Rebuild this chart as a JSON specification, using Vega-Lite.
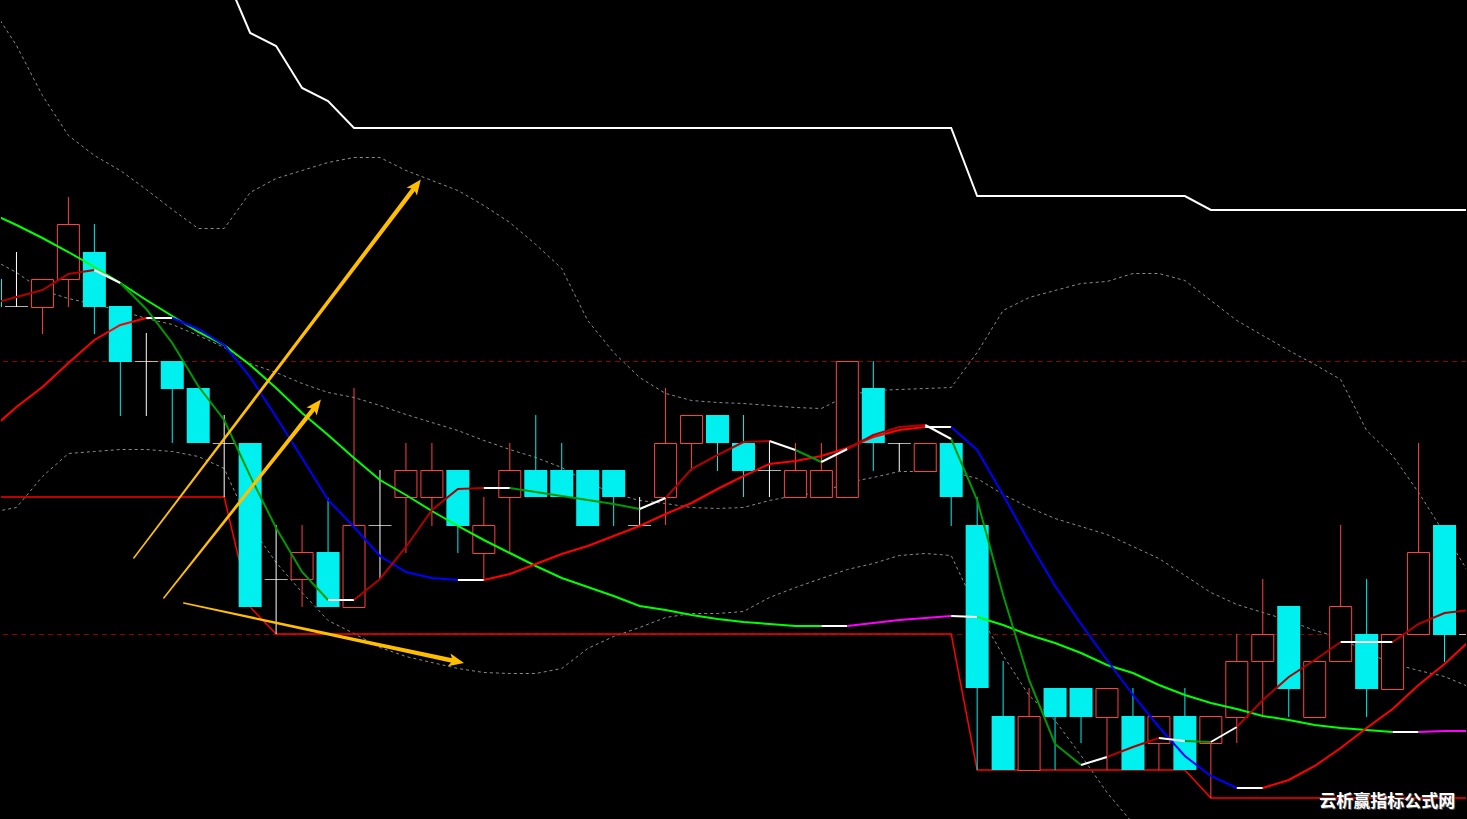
{
"$schema":"https://vega.github.io/schema/vega-lite/v6.json",
"width":1467,"height":819,"padding":0,
"autosize":{"type":"fit","contains":"padding"},
"background":"#000000",
"config":{"view":{"stroke":null},"scale":{"continuousPadding":0}},
"resolve":{"scale":{"color":"independent","size":"independent","y":"independent"}},
"datasets":{
"levels":[{"v":361},{"v":634}],
"candles":[
{"i":-1,"t":"bear","o":279,"c":307,"h":279,"l":307},
{"i":0,"t":"doji","o":306,"c":306,"h":252,"l":307},
{"i":1,"t":"bull","o":307,"c":279,"h":279,"l":334},
{"i":2,"t":"bull","o":279,"c":224,"h":197,"l":307},
{"i":3,"t":"bear","o":252,"c":307,"h":224,"l":334},
{"i":4,"t":"bear","o":306,"c":362,"h":306,"l":416},
{"i":5,"t":"doji","o":361,"c":361,"h":333,"l":416},
{"i":6,"t":"bear","o":361,"c":389,"h":361,"l":443},
{"i":7,"t":"bear","o":388,"c":443,"h":388,"l":443},
{"i":8,"t":"doji","o":443,"c":443,"h":415,"l":497},
{"i":9,"t":"bear","o":443,"c":607,"h":443,"l":607},
{"i":10,"t":"doji","o":579,"c":579,"h":525,"l":634},
{"i":11,"t":"bull","o":579,"c":552,"h":525,"l":607},
{"i":12,"t":"bear","o":552,"c":607,"h":498,"l":607},
{"i":13,"t":"bull","o":607,"c":525,"h":388,"l":607},
{"i":14,"t":"doji","o":525,"c":525,"h":470,"l":579},
{"i":15,"t":"bull","o":497,"c":470,"h":443,"l":553},
{"i":16,"t":"bull","o":497,"c":470,"h":443,"l":526},
{"i":17,"t":"bear","o":470,"c":526,"h":470,"l":553},
{"i":18,"t":"bull","o":553,"c":525,"h":497,"l":579},
{"i":19,"t":"bull","o":497,"c":470,"h":443,"l":552},
{"i":20,"t":"bear","o":470,"c":497,"h":415,"l":497},
{"i":21,"t":"bear","o":470,"c":497,"h":443,"l":497},
{"i":22,"t":"bear","o":470,"c":526,"h":470,"l":526},
{"i":23,"t":"bear","o":470,"c":497,"h":470,"l":526},
{"i":24,"t":"doji","o":525,"c":525,"h":497,"l":525},
{"i":25,"t":"bull","o":497,"c":443,"h":388,"l":525},
{"i":26,"t":"bull","o":443,"c":415,"h":415,"l":471},
{"i":27,"t":"bear","o":415,"c":443,"h":415,"l":471},
{"i":28,"t":"bear","o":443,"c":471,"h":415,"l":497},
{"i":29,"t":"doji","o":470,"c":470,"h":442,"l":497},
{"i":30,"t":"bull","o":497,"c":470,"h":443,"l":497},
{"i":31,"t":"bull","o":497,"c":470,"h":443,"l":497},
{"i":32,"t":"bull","o":497,"c":361,"h":361,"l":497},
{"i":33,"t":"bear","o":388,"c":443,"h":361,"l":471},
{"i":34,"t":"doji","o":443,"c":443,"h":443,"l":471},
{"i":35,"t":"bull","o":471,"c":443,"h":443,"l":471},
{"i":36,"t":"bear","o":443,"c":497,"h":443,"l":526},
{"i":37,"t":"bear","o":525,"c":688,"h":497,"l":770},
{"i":38,"t":"bear","o":716,"c":770,"h":661,"l":770},
{"i":39,"t":"bull","o":770,"c":716,"h":688,"l":770},
{"i":40,"t":"bear","o":688,"c":717,"h":688,"l":770},
{"i":41,"t":"bear","o":688,"c":717,"h":688,"l":743},
{"i":42,"t":"bull","o":717,"c":688,"h":688,"l":770},
{"i":43,"t":"bear","o":716,"c":770,"h":688,"l":770},
{"i":44,"t":"bull","o":743,"c":716,"h":716,"l":770},
{"i":45,"t":"bear","o":716,"c":770,"h":688,"l":770},
{"i":46,"t":"bull","o":743,"c":716,"h":716,"l":798},
{"i":47,"t":"bull","o":717,"c":661,"h":634,"l":743},
{"i":48,"t":"bull","o":661,"c":634,"h":579,"l":717},
{"i":49,"t":"bear","o":606,"c":689,"h":606,"l":717},
{"i":50,"t":"bull","o":717,"c":661,"h":661,"l":717},
{"i":51,"t":"bull","o":661,"c":606,"h":525,"l":661},
{"i":52,"t":"bear","o":634,"c":689,"h":579,"l":717},
{"i":53,"t":"bull","o":689,"c":634,"h":634,"l":689},
{"i":54,"t":"bull","o":634,"c":552,"h":443,"l":634},
{"i":55,"t":"bear","o":525,"c":635,"h":525,"l":662},
{"i":56,"t":"doji","o":634,"c":634,"h":634,"l":634}
],
"bands":[
{"b":"u","i":-1,"v":5},{"b":"u","i":0,"v":45},{"b":"u","i":1,"v":95},{"b":"u","i":2,"v":135},{"b":"u","i":3,"v":155},{"b":"u","i":4,"v":170},{"b":"u","i":5,"v":189},{"b":"u","i":6,"v":209},{"b":"u","i":7,"v":228},{"b":"u","i":8,"v":228},{"b":"u","i":9,"v":192},{"b":"u","i":10,"v":178},{"b":"u","i":11,"v":170},{"b":"u","i":12,"v":162},{"b":"u","i":13,"v":157},{"b":"u","i":14,"v":157},{"b":"u","i":15,"v":170},{"b":"u","i":16,"v":180},{"b":"u","i":17,"v":190},{"b":"u","i":18,"v":205},{"b":"u","i":19,"v":222},{"b":"u","i":20,"v":244},{"b":"u","i":21,"v":268},{"b":"u","i":22,"v":320},{"b":"u","i":23,"v":352},{"b":"u","i":24,"v":377},{"b":"u","i":25,"v":393},{"b":"u","i":26,"v":400},{"b":"u","i":27,"v":402},{"b":"u","i":28,"v":403},{"b":"u","i":29,"v":405},{"b":"u","i":30,"v":407},{"b":"u","i":31,"v":408},{"b":"u","i":32,"v":395},{"b":"u","i":33,"v":390},{"b":"u","i":34,"v":389},{"b":"u","i":35,"v":388},{"b":"u","i":36,"v":387},{"b":"u","i":37,"v":352},{"b":"u","i":38,"v":310},{"b":"u","i":39,"v":297},{"b":"u","i":40,"v":290},{"b":"u","i":41,"v":283},{"b":"u","i":42,"v":281},{"b":"u","i":43,"v":273},{"b":"u","i":44,"v":273},{"b":"u","i":45,"v":280},{"b":"u","i":46,"v":300},{"b":"u","i":47,"v":320},{"b":"u","i":48,"v":335},{"b":"u","i":49,"v":350},{"b":"u","i":50,"v":364},{"b":"u","i":51,"v":379},{"b":"u","i":52,"v":430},{"b":"u","i":53,"v":455},{"b":"u","i":54,"v":492},{"b":"u","i":55,"v":533},{"b":"u","i":56,"v":575},
{"b":"m","i":-1,"v":258},{"b":"m","i":0,"v":272},{"b":"m","i":1,"v":290},{"b":"m","i":2,"v":298},{"b":"m","i":3,"v":304},{"b":"m","i":4,"v":310},{"b":"m","i":5,"v":318},{"b":"m","i":6,"v":324},{"b":"m","i":7,"v":335},{"b":"m","i":8,"v":347},{"b":"m","i":9,"v":363},{"b":"m","i":10,"v":372},{"b":"m","i":11,"v":383},{"b":"m","i":12,"v":392},{"b":"m","i":13,"v":397},{"b":"m","i":14,"v":405},{"b":"m","i":15,"v":414},{"b":"m","i":16,"v":422},{"b":"m","i":17,"v":430},{"b":"m","i":18,"v":440},{"b":"m","i":19,"v":449},{"b":"m","i":20,"v":457},{"b":"m","i":21,"v":467},{"b":"m","i":22,"v":482},{"b":"m","i":23,"v":493},{"b":"m","i":24,"v":500},{"b":"m","i":25,"v":503},{"b":"m","i":26,"v":507},{"b":"m","i":27,"v":508},{"b":"m","i":28,"v":507},{"b":"m","i":29,"v":500},{"b":"m","i":30,"v":495},{"b":"m","i":31,"v":492},{"b":"m","i":32,"v":482},{"b":"m","i":33,"v":477},{"b":"m","i":34,"v":471},{"b":"m","i":35,"v":471},{"b":"m","i":36,"v":471},{"b":"m","i":37,"v":478},{"b":"m","i":38,"v":494},{"b":"m","i":39,"v":507},{"b":"m","i":40,"v":518},{"b":"m","i":41,"v":526},{"b":"m","i":42,"v":534},{"b":"m","i":43,"v":546},{"b":"m","i":44,"v":558},{"b":"m","i":45,"v":575},{"b":"m","i":46,"v":592},{"b":"m","i":47,"v":604},{"b":"m","i":48,"v":612},{"b":"m","i":49,"v":620},{"b":"m","i":50,"v":630},{"b":"m","i":51,"v":637},{"b":"m","i":52,"v":652},{"b":"m","i":53,"v":663},{"b":"m","i":54,"v":670},{"b":"m","i":55,"v":676},{"b":"m","i":56,"v":687},
{"b":"l","i":-1,"v":512},{"b":"l","i":0,"v":507},{"b":"l","i":1,"v":476},{"b":"l","i":2,"v":453},{"b":"l","i":3,"v":451},{"b":"l","i":4,"v":449},{"b":"l","i":5,"v":449},{"b":"l","i":6,"v":451},{"b":"l","i":7,"v":456},{"b":"l","i":8,"v":468},{"b":"l","i":9,"v":525},{"b":"l","i":10,"v":562},{"b":"l","i":11,"v":592},{"b":"l","i":12,"v":620},{"b":"l","i":13,"v":633},{"b":"l","i":14,"v":647},{"b":"l","i":15,"v":656},{"b":"l","i":16,"v":662},{"b":"l","i":17,"v":668},{"b":"l","i":18,"v":672},{"b":"l","i":19,"v":673},{"b":"l","i":20,"v":673},{"b":"l","i":21,"v":668},{"b":"l","i":22,"v":648},{"b":"l","i":23,"v":636},{"b":"l","i":24,"v":627},{"b":"l","i":25,"v":617},{"b":"l","i":26,"v":613},{"b":"l","i":27,"v":613},{"b":"l","i":28,"v":611},{"b":"l","i":29,"v":597},{"b":"l","i":30,"v":587},{"b":"l","i":31,"v":578},{"b":"l","i":32,"v":569},{"b":"l","i":33,"v":563},{"b":"l","i":34,"v":555},{"b":"l","i":35,"v":553},{"b":"l","i":36,"v":555},{"b":"l","i":37,"v":610},{"b":"l","i":38,"v":655},{"b":"l","i":39,"v":695},{"b":"l","i":40,"v":720},{"b":"l","i":41,"v":755},{"b":"l","i":42,"v":792},{"b":"l","i":43,"v":823}
],
"stops":[
{"s":"upper","i":8,"v":-28},{"s":"upper","i":9,"v":33},{"s":"upper","i":10,"v":46},{"s":"upper","i":11,"v":88},{"s":"upper","i":12,"v":101},{"s":"upper","i":13,"v":128},{"s":"upper","i":36,"v":128},{"s":"upper","i":37,"v":196},{"s":"upper","i":45,"v":196},{"s":"upper","i":46,"v":210},{"s":"upper","i":56,"v":210},
{"s":"lower","i":-1,"v":497},{"s":"lower","i":8,"v":497},{"s":"lower","i":9,"v":607},{"s":"lower","i":10,"v":634},{"s":"lower","i":36,"v":634},{"s":"lower","i":37,"v":770},{"s":"lower","i":45,"v":770},{"s":"lower","i":46,"v":798},{"s":"lower","i":56,"v":798}
],
"lines":[
{"k":"A-dn","s":"A1","i":-1,"v":213},{"k":"A-dn","s":"A1","i":0,"v":225},{"k":"A-dn","s":"A1","i":1,"v":238},{"k":"A-dn","s":"A1","i":2,"v":252},{"k":"A-dn","s":"A1","i":3,"v":267},{"k":"A-dn","s":"A1","i":4,"v":283},{"k":"A-dn","s":"A1","i":5,"v":300},{"k":"A-dn","s":"A1","i":6,"v":316},{"k":"A-dn","s":"A1","i":7,"v":332},{"k":"A-dn","s":"A1","i":8,"v":345},{"k":"A-dn","s":"A1","i":9,"v":365},{"k":"A-dn","s":"A1","i":10,"v":388},{"k":"A-dn","s":"A1","i":11,"v":413},{"k":"A-dn","s":"A1","i":12,"v":435},{"k":"A-dn","s":"A1","i":13,"v":458},{"k":"A-dn","s":"A1","i":14,"v":480},{"k":"A-dn","s":"A1","i":15,"v":495},{"k":"A-dn","s":"A1","i":16,"v":511},{"k":"A-dn","s":"A1","i":17,"v":526},{"k":"A-dn","s":"A1","i":18,"v":540},{"k":"A-dn","s":"A1","i":19,"v":553},{"k":"A-dn","s":"A1","i":20,"v":566},{"k":"A-dn","s":"A1","i":21,"v":578},{"k":"A-dn","s":"A1","i":22,"v":587},{"k":"A-dn","s":"A1","i":23,"v":596},{"k":"A-dn","s":"A1","i":24,"v":606},{"k":"A-dn","s":"A1","i":25,"v":610},{"k":"A-dn","s":"A1","i":26,"v":615},{"k":"A-dn","s":"A1","i":27,"v":619},{"k":"A-dn","s":"A1","i":28,"v":622},{"k":"A-dn","s":"A1","i":29,"v":624},{"k":"A-dn","s":"A1","i":30,"v":626},{"k":"A-dn","s":"A1","i":31,"v":626},
{"k":"A-fl","s":"A2","i":31,"v":626},{"k":"A-fl","s":"A2","i":32,"v":626},
{"k":"A-up","s":"A3","i":32,"v":626},{"k":"A-up","s":"A3","i":33,"v":623},{"k":"A-up","s":"A3","i":34,"v":620},{"k":"A-up","s":"A3","i":35,"v":618},{"k":"A-up","s":"A3","i":36,"v":616},
{"k":"A-fl","s":"A4","i":36,"v":616},{"k":"A-fl","s":"A4","i":37,"v":617},
{"k":"A-dn","s":"A5","i":37,"v":617},{"k":"A-dn","s":"A5","i":38,"v":625},{"k":"A-dn","s":"A5","i":39,"v":635},{"k":"A-dn","s":"A5","i":40,"v":643},{"k":"A-dn","s":"A5","i":41,"v":653},{"k":"A-dn","s":"A5","i":42,"v":665},{"k":"A-dn","s":"A5","i":43,"v":673},{"k":"A-dn","s":"A5","i":44,"v":685},{"k":"A-dn","s":"A5","i":45,"v":695},{"k":"A-dn","s":"A5","i":46,"v":703},{"k":"A-dn","s":"A5","i":47,"v":709},{"k":"A-dn","s":"A5","i":48,"v":716},{"k":"A-dn","s":"A5","i":49,"v":720},{"k":"A-dn","s":"A5","i":50,"v":725},{"k":"A-dn","s":"A5","i":51,"v":728},{"k":"A-dn","s":"A5","i":52,"v":730},{"k":"A-dn","s":"A5","i":53,"v":732},
{"k":"A-fl","s":"A6","i":53,"v":732},{"k":"A-fl","s":"A6","i":54,"v":732},
{"k":"A-up","s":"A7","i":54,"v":732},{"k":"A-up","s":"A7","i":55,"v":731},{"k":"A-up","s":"A7","i":56,"v":731},
{"k":"B-up","s":"B1","i":-1,"v":430},{"k":"B-up","s":"B1","i":0,"v":407},{"k":"B-up","s":"B1","i":1,"v":387},{"k":"B-up","s":"B1","i":2,"v":363},{"k":"B-up","s":"B1","i":3,"v":340},{"k":"B-up","s":"B1","i":4,"v":325},{"k":"B-up","s":"B1","i":5,"v":318},
{"k":"B-fl","s":"B2","i":5,"v":318},{"k":"B-fl","s":"B2","i":6,"v":318},
{"k":"B-dn","s":"B3","i":6,"v":318},{"k":"B-dn","s":"B3","i":7,"v":329},{"k":"B-dn","s":"B3","i":8,"v":345},{"k":"B-dn","s":"B3","i":9,"v":377},{"k":"B-dn","s":"B3","i":10,"v":417},{"k":"B-dn","s":"B3","i":11,"v":458},{"k":"B-dn","s":"B3","i":12,"v":500},{"k":"B-dn","s":"B3","i":13,"v":527},{"k":"B-dn","s":"B3","i":14,"v":556},{"k":"B-dn","s":"B3","i":15,"v":572},{"k":"B-dn","s":"B3","i":16,"v":578},{"k":"B-dn","s":"B3","i":17,"v":580},
{"k":"B-fl","s":"B4","i":17,"v":580},{"k":"B-fl","s":"B4","i":18,"v":580},
{"k":"B-up","s":"B5","i":18,"v":580},{"k":"B-up","s":"B5","i":19,"v":574},{"k":"B-up","s":"B5","i":20,"v":564},{"k":"B-up","s":"B5","i":21,"v":554},{"k":"B-up","s":"B5","i":22,"v":546},{"k":"B-up","s":"B5","i":23,"v":536},{"k":"B-up","s":"B5","i":24,"v":526},{"k":"B-up","s":"B5","i":25,"v":514},{"k":"B-up","s":"B5","i":26,"v":503},{"k":"B-up","s":"B5","i":27,"v":489},{"k":"B-up","s":"B5","i":28,"v":476},{"k":"B-up","s":"B5","i":29,"v":464},{"k":"B-up","s":"B5","i":30,"v":461},{"k":"B-up","s":"B5","i":31,"v":456},{"k":"B-up","s":"B5","i":32,"v":448},{"k":"B-up","s":"B5","i":33,"v":437},{"k":"B-up","s":"B5","i":34,"v":430},{"k":"B-up","s":"B5","i":35,"v":427},
{"k":"B-fl","s":"B6","i":35,"v":427},{"k":"B-fl","s":"B6","i":36,"v":427},
{"k":"B-dn","s":"B7","i":36,"v":427},{"k":"B-dn","s":"B7","i":37,"v":450},{"k":"B-dn","s":"B7","i":38,"v":495},{"k":"B-dn","s":"B7","i":39,"v":542},{"k":"B-dn","s":"B7","i":40,"v":586},{"k":"B-dn","s":"B7","i":41,"v":624},{"k":"B-dn","s":"B7","i":42,"v":660},{"k":"B-dn","s":"B7","i":43,"v":695},{"k":"B-dn","s":"B7","i":44,"v":727},{"k":"B-dn","s":"B7","i":45,"v":756},{"k":"B-dn","s":"B7","i":46,"v":776},{"k":"B-dn","s":"B7","i":47,"v":788},
{"k":"B-fl","s":"B8","i":47,"v":788},{"k":"B-fl","s":"B8","i":48,"v":788},
{"k":"B-up","s":"B9","i":48,"v":788},{"k":"B-up","s":"B9","i":49,"v":780},{"k":"B-up","s":"B9","i":50,"v":766},{"k":"B-up","s":"B9","i":51,"v":748},{"k":"B-up","s":"B9","i":52,"v":728},{"k":"B-up","s":"B9","i":53,"v":709},{"k":"B-up","s":"B9","i":54,"v":685},{"k":"B-up","s":"B9","i":55,"v":664},{"k":"B-up","s":"B9","i":56,"v":640},
{"k":"C-up","s":"C1","i":-1,"v":304},{"k":"C-up","s":"C1","i":0,"v":297},{"k":"C-up","s":"C1","i":1,"v":290},{"k":"C-up","s":"C1","i":2,"v":274},{"k":"C-up","s":"C1","i":3,"v":270},
{"k":"C-fl","s":"C2","i":3,"v":270},{"k":"C-fl","s":"C2","i":4,"v":283},
{"k":"C-dn","s":"C3","i":4,"v":283},{"k":"C-dn","s":"C3","i":5,"v":309},{"k":"C-dn","s":"C3","i":6,"v":343},{"k":"C-dn","s":"C3","i":7,"v":386},{"k":"C-dn","s":"C3","i":8,"v":420},{"k":"C-dn","s":"C3","i":9,"v":476},{"k":"C-dn","s":"C3","i":10,"v":528},{"k":"C-dn","s":"C3","i":11,"v":572},{"k":"C-dn","s":"C3","i":12,"v":600},
{"k":"C-fl","s":"C4","i":12,"v":600},{"k":"C-fl","s":"C4","i":13,"v":600},
{"k":"C-up","s":"C5","i":13,"v":600},{"k":"C-up","s":"C5","i":14,"v":579},{"k":"C-up","s":"C5","i":15,"v":547},{"k":"C-up","s":"C5","i":16,"v":510},{"k":"C-up","s":"C5","i":17,"v":489},{"k":"C-up","s":"C5","i":18,"v":488},
{"k":"C-fl","s":"C6","i":18,"v":488},{"k":"C-fl","s":"C6","i":19,"v":488},
{"k":"C-dn","s":"C7","i":19,"v":488},{"k":"C-dn","s":"C7","i":20,"v":492},{"k":"C-dn","s":"C7","i":21,"v":496},{"k":"C-dn","s":"C7","i":22,"v":500},{"k":"C-dn","s":"C7","i":23,"v":504},{"k":"C-dn","s":"C7","i":24,"v":509},
{"k":"C-fl","s":"C8","i":24,"v":509},{"k":"C-fl","s":"C8","i":25,"v":498},
{"k":"C-up","s":"C9","i":25,"v":498},{"k":"C-up","s":"C9","i":26,"v":469},{"k":"C-up","s":"C9","i":27,"v":455},{"k":"C-up","s":"C9","i":28,"v":442},{"k":"C-up","s":"C9","i":29,"v":441},
{"k":"C-fl","s":"C10","i":29,"v":441},{"k":"C-fl","s":"C10","i":30,"v":450},
{"k":"C-dn","s":"C11","i":30,"v":450},{"k":"C-dn","s":"C11","i":31,"v":462},
{"k":"C-fl","s":"C12","i":31,"v":462},{"k":"C-fl","s":"C12","i":32,"v":449},
{"k":"C-up","s":"C13","i":32,"v":449},{"k":"C-up","s":"C13","i":33,"v":435},{"k":"C-up","s":"C13","i":34,"v":427},{"k":"C-up","s":"C13","i":35,"v":425},
{"k":"C-fl","s":"C14","i":35,"v":425},{"k":"C-fl","s":"C14","i":36,"v":439},
{"k":"C-dn","s":"C15","i":36,"v":439},{"k":"C-dn","s":"C15","i":37,"v":500},{"k":"C-dn","s":"C15","i":38,"v":595},{"k":"C-dn","s":"C15","i":39,"v":680},{"k":"C-dn","s":"C15","i":40,"v":744},{"k":"C-dn","s":"C15","i":41,"v":765},
{"k":"C-fl","s":"C16","i":41,"v":765},{"k":"C-fl","s":"C16","i":42,"v":757},
{"k":"C-up","s":"C17","i":42,"v":757},{"k":"C-up","s":"C17","i":43,"v":747},{"k":"C-up","s":"C17","i":44,"v":738},
{"k":"C-fl","s":"C18","i":44,"v":738},{"k":"C-fl","s":"C18","i":45,"v":741},
{"k":"C-dn","s":"C19","i":45,"v":741},{"k":"C-dn","s":"C19","i":46,"v":742},
{"k":"C-fl","s":"C20","i":46,"v":742},{"k":"C-fl","s":"C20","i":47,"v":727},
{"k":"C-up","s":"C21","i":47,"v":727},{"k":"C-up","s":"C21","i":48,"v":700},{"k":"C-up","s":"C21","i":49,"v":677},{"k":"C-up","s":"C21","i":50,"v":660},{"k":"C-up","s":"C21","i":51,"v":642},
{"k":"C-fl","s":"C22","i":51,"v":642},{"k":"C-fl","s":"C22","i":52,"v":642},{"k":"C-fl","s":"C22","i":53,"v":642},
{"k":"C-up","s":"C23","i":53,"v":642},{"k":"C-up","s":"C23","i":54,"v":624},{"k":"C-up","s":"C23","i":55,"v":613},{"k":"C-up","s":"C23","i":56,"v":610}
],
"arrows":[
{"a":"a1","t":0,"i":4.519,"v":558},{"a":"a1","t":1,"i":15.373,"v":186.4},
{"a":"a2","t":0,"i":5.673,"v":598},{"a":"a2","t":1,"i":11.52,"v":406.3},
{"a":"a3","t":0,"i":6.442,"v":603},{"a":"a3","t":1,"i":16.91,"v":661.3}
],
"labels":[{"i":52.79,"v":802,"text":"云析赢指标公式网"}]
},
"layer":[
{"data":{"name":"levels"},"mark":{"type":"rule","color":"#900000","strokeWidth":1,"strokeDash":[5,4]},
 "encoding":{"y":{"field":"v","type":"quantitative","scale":{"domain":[0,819],"range":[0.5,819.5],"nice":false,"zero":false,"padding":0},"axis":null}}},
{"data":{"name":"bands"},"mark":{"type":"line","color":"#8c8c8c","strokeWidth":1,"strokeDash":[3,3],"clip":true},
 "encoding":{"x":{"field":"i","type":"quantitative","scale":{"domain":[-0.596,55.827],"nice":false,"zero":false,"padding":0},"axis":null},
 "y":{"field":"v","type":"quantitative","scale":{"domain":[0,819],"range":[0.5,819.5],"nice":false,"zero":false,"padding":0},"axis":null},
 "detail":{"field":"b"}}},
{"data":{"name":"stops"},"transform":[{"filter":{"field":"s","equal":"lower"}}],"mark":{"type":"line","color":"#ff0000","strokeWidth":1.5,"clip":true},
 "encoding":{"x":{"field":"i","type":"quantitative","scale":{"domain":[-0.596,55.827],"nice":false,"zero":false,"padding":0},"axis":null},
 "y":{"field":"v","type":"quantitative","scale":{"domain":[0,819],"range":[0,819],"nice":false,"zero":false,"padding":0},"axis":null}}},
{"data":{"name":"stops"},"transform":[{"filter":{"field":"s","equal":"upper"}}],"mark":{"type":"line","color":"#ffffff","strokeWidth":2,"clip":true},
 "encoding":{"x":{"field":"i","type":"quantitative","scale":{"domain":[-0.596,55.827],"nice":false,"zero":false,"padding":0},"axis":null},
 "y":{"field":"v","type":"quantitative","scale":{"domain":[0,819],"range":[0,819],"nice":false,"zero":false,"padding":0},"axis":null}}},
{"data":{"name":"candles"},"mark":{"type":"rule","strokeWidth":1,"clip":true},
 "encoding":{"x":{"field":"i","type":"quantitative","scale":{"domain":[-0.596,55.827],"nice":false,"zero":false,"padding":0},"axis":null},
 "y":{"field":"h","type":"quantitative","scale":{"domain":[0,819],"range":[0,819],"nice":false,"zero":false,"padding":0},"axis":null},
 "y2":{"field":"l"},
 "color":{"field":"t","type":"nominal","scale":{"domain":["bull","bear","doji"],"range":["#ff4040","#00f0f0","#ffffff"]},"legend":null}}},
{"data":{"name":"candles"},"transform":[{"filter":{"field":"t","equal":"bear"}}],"mark":{"type":"bar","width":23,"color":"#00f0f0","clip":true},
 "encoding":{"x":{"field":"i","type":"quantitative","scale":{"domain":[-0.596,55.827],"nice":false,"zero":false,"padding":0},"axis":null},
 "y":{"field":"o","type":"quantitative","scale":{"domain":[0,819],"range":[0,819],"nice":false,"zero":false,"padding":0},"axis":null},
 "y2":{"field":"c"}}},
{"data":{"name":"candles"},"transform":[{"filter":{"field":"t","equal":"bull"}}],"mark":{"type":"bar","width":22,"fill":"#000000","stroke":"#ff4040","strokeWidth":1,"clip":true},
 "encoding":{"x":{"field":"i","type":"quantitative","scale":{"domain":[-0.596,55.827],"nice":false,"zero":false,"padding":0},"axis":null},
 "y":{"field":"o","type":"quantitative","scale":{"domain":[0,819],"range":[0.5,819.5],"nice":false,"zero":false,"padding":0},"axis":null},
 "y2":{"field":"c"}}},
{"data":{"name":"candles"},"transform":[{"filter":{"field":"t","equal":"doji"}}],"mark":{"type":"tick","orient":"horizontal","size":23,"thickness":1,"color":"#ffffff","clip":true},
 "encoding":{"x":{"field":"i","type":"quantitative","scale":{"domain":[-0.596,55.827],"nice":false,"zero":false,"padding":0},"axis":null},
 "y":{"field":"o","type":"quantitative","scale":{"domain":[0,819],"range":[0.5,819.5],"nice":false,"zero":false,"padding":0},"axis":null}}},
{"data":{"name":"lines"},"mark":{"type":"line","strokeWidth":2,"clip":true},
 "encoding":{"x":{"field":"i","type":"quantitative","scale":{"domain":[-0.596,55.827],"nice":false,"zero":false,"padding":0},"axis":null},
 "y":{"field":"v","type":"quantitative","scale":{"domain":[0,819],"range":[0,819],"nice":false,"zero":false,"padding":0},"axis":null},
 "detail":{"field":"s"},
 "color":{"field":"k","type":"nominal","scale":{"domain":["A-dn","A-fl","A-up","B-dn","B-fl","B-up","C-dn","C-fl","C-up"],"range":["#00ff00","#ffffff","#ff00ff","#0000ff","#ffffff","#ff0000","#009a00","#ffffff","#b00000"]},"legend":null}}},
{"data":{"name":"arrows"},"mark":{"type":"trail","color":"#ffbf00","clip":true},
 "encoding":{"x":{"field":"i","type":"quantitative","scale":{"domain":[-0.596,55.827],"nice":false,"zero":false,"padding":0},"axis":null},
 "y":{"field":"v","type":"quantitative","scale":{"domain":[0,819],"range":[0,819],"nice":false,"zero":false,"padding":0},"axis":null},
 "detail":{"field":"a"},
 "size":{"field":"t","type":"quantitative","scale":{"domain":[0,1],"range":[1.5,4.5]},"legend":null}}},
{"data":{"name":"arrows"},"transform":[{"filter":"datum.a==='a1' && datum.t===1"}],"mark":{"type":"point","filled":true,"color":"#ffbf00","opacity":1,"size":300,"angle":37,"shape":"M0,-1L0.75,0.75L0,0.35L-0.75,0.75Z"},
 "encoding":{"x":{"field":"i","type":"quantitative","scale":{"domain":[-0.596,55.827],"nice":false,"zero":false,"padding":0},"axis":null},
 "y":{"field":"v","type":"quantitative","scale":{"domain":[0,819],"range":[0,819],"nice":false,"zero":false,"padding":0},"axis":null}}},
{"data":{"name":"arrows"},"transform":[{"filter":"datum.a==='a2' && datum.t===1"}],"mark":{"type":"point","filled":true,"color":"#ffbf00","opacity":1,"size":300,"angle":38,"shape":"M0,-1L0.75,0.75L0,0.35L-0.75,0.75Z"},
 "encoding":{"x":{"field":"i","type":"quantitative","scale":{"domain":[-0.596,55.827],"nice":false,"zero":false,"padding":0},"axis":null},
 "y":{"field":"v","type":"quantitative","scale":{"domain":[0,819],"range":[0,819],"nice":false,"zero":false,"padding":0},"axis":null}}},
{"data":{"name":"arrows"},"transform":[{"filter":"datum.a==='a3' && datum.t===1"}],"mark":{"type":"point","filled":true,"color":"#ffbf00","opacity":1,"size":300,"angle":102,"shape":"M0,-1L0.75,0.75L0,0.35L-0.75,0.75Z"},
 "encoding":{"x":{"field":"i","type":"quantitative","scale":{"domain":[-0.596,55.827],"nice":false,"zero":false,"padding":0},"axis":null},
 "y":{"field":"v","type":"quantitative","scale":{"domain":[0,819],"range":[0,819],"nice":false,"zero":false,"padding":0},"axis":null}}},
{"data":{"name":"labels"},"mark":{"type":"text","font":"Noto Sans CJK SC","fontSize":17,"fontWeight":"bold","color":"#555555","dx":1,"dy":1,"align":"center","baseline":"middle"},
 "encoding":{"x":{"field":"i","type":"quantitative","scale":{"domain":[-0.596,55.827],"nice":false,"zero":false,"padding":0},"axis":null},
 "y":{"field":"v","type":"quantitative","scale":{"domain":[0,819],"range":[0,819],"nice":false,"zero":false,"padding":0},"axis":null},
 "text":{"field":"text"}}},
{"data":{"name":"labels"},"mark":{"type":"text","font":"Noto Sans CJK SC","fontSize":17,"fontWeight":"bold","color":"#ffffff","align":"center","baseline":"middle"},
 "encoding":{"x":{"field":"i","type":"quantitative","scale":{"domain":[-0.596,55.827],"nice":false,"zero":false,"padding":0},"axis":null},
 "y":{"field":"v","type":"quantitative","scale":{"domain":[0,819],"range":[0,819],"nice":false,"zero":false,"padding":0},"axis":null},
 "text":{"field":"text"}}}
]
}
